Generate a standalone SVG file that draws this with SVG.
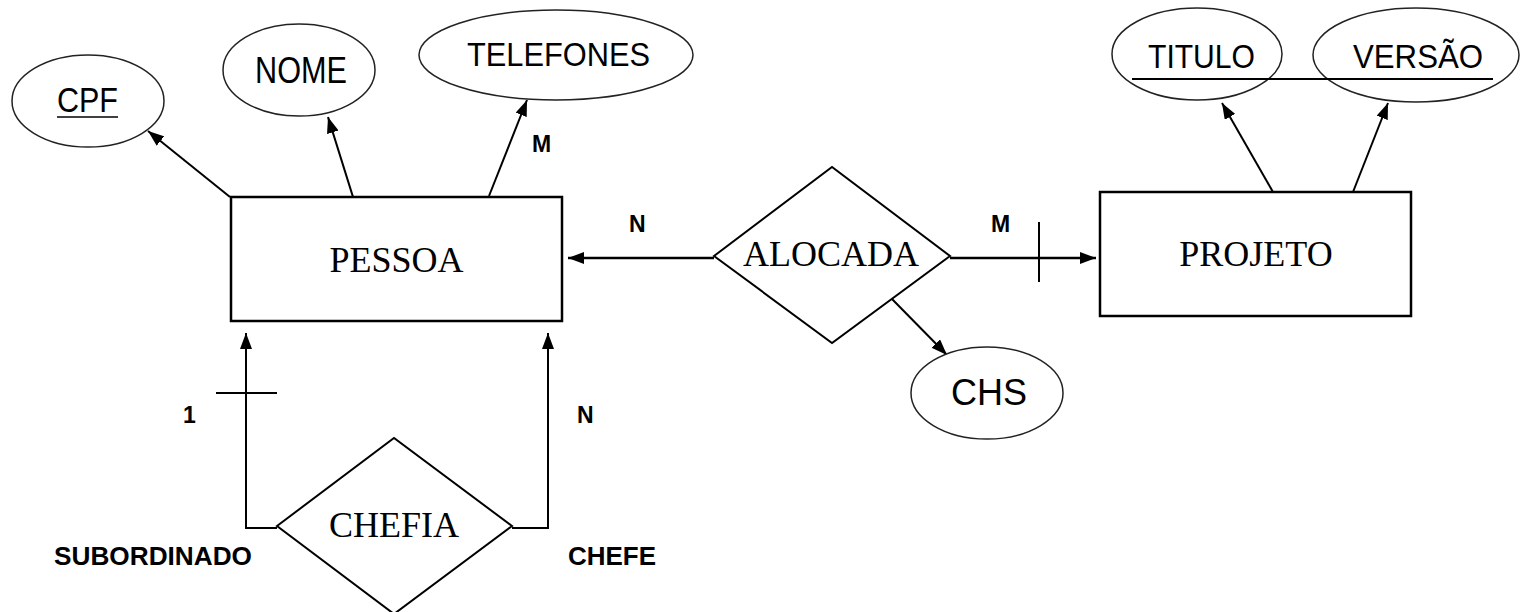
<svg xmlns="http://www.w3.org/2000/svg" width="1520" height="612" viewBox="0 0 1520 612">
<style>
.ent{fill:#fff;stroke:#000;stroke-width:2.5}
.rel{fill:#fff;stroke:#000;stroke-width:2}
.att{fill:#fff;stroke:#222;stroke-width:1.5}
.serif{font-family:"Liberation Serif","Times New Roman",serif;font-size:36px;fill:#000}
.sans{font-family:"Liberation Sans",Arial,sans-serif;fill:#000}
.lbl{font-family:"Liberation Sans",Arial,sans-serif;font-weight:bold;font-size:23px;fill:#000}
.ln{stroke:#000;stroke-width:2;fill:none}
.thk{stroke:#000;stroke-width:2.5;fill:none}
</style>
<defs>
<marker id="ah" markerUnits="userSpaceOnUse" markerWidth="16" markerHeight="12" refX="16" refY="6" orient="auto">
<path d="M0,0 L16,6 L0,12 z" fill="#000"/>
</marker>
</defs>
<rect width="1520" height="612" fill="#fff"/>
<g id="connectors">
<line class="ln" x1="230" y1="197" x2="148" y2="131" marker-end="url(#ah)"/>
<line class="ln" x1="353" y1="197" x2="328" y2="117" marker-end="url(#ah)"/>
<line class="ln" x1="489" y1="196" x2="527" y2="100" marker-end="url(#ah)"/>
<line class="ln" x1="1273" y1="192" x2="1222" y2="103" marker-end="url(#ah)"/>
<line class="ln" x1="1353" y1="192" x2="1388" y2="103" marker-end="url(#ah)"/>
<line class="thk" x1="714" y1="258" x2="568" y2="258" marker-end="url(#ah)"/>
<line class="thk" x1="950" y1="258" x2="1096" y2="258" marker-end="url(#ah)"/>
<line class="ln" x1="1039" y1="222" x2="1039" y2="282"/>
<line class="ln" x1="891" y1="298" x2="947" y2="355" marker-end="url(#ah)"/>
<polyline class="ln" points="277,528 246,528 246,333" marker-end="url(#ah)"/>
<line class="ln" x1="216" y1="393" x2="277" y2="393"/>
<polyline class="ln" points="512,528 548,528 548,333" marker-end="url(#ah)"/>
<text class="lbl" x="532" y="152">M</text>
<text class="lbl" x="629" y="232">N</text>
<text class="lbl" x="991" y="232">M</text>
<text class="lbl" x="183" y="423">1</text>
<text class="lbl" x="577" y="423">N</text>
<text class="lbl" x="54" y="565" textLength="198" lengthAdjust="spacingAndGlyphs" style="font-size:25px">SUBORDINADO</text>
<text class="lbl" x="568" y="565" textLength="88" lengthAdjust="spacingAndGlyphs" style="font-size:25px">CHEFE</text>
</g>
<g id="pessoa">
<rect class="ent" x="231" y="197" width="331" height="124"/>
<text class="serif" x="396.5" y="272" text-anchor="middle">PESSOA</text>
</g>
<g id="projeto">
<rect class="ent" x="1100" y="192" width="311" height="124"/>
<text class="serif" x="1256" y="266" text-anchor="middle">PROJETO</text>
</g>
<g id="alocada">
<polygon class="rel" points="714,256 832,167 950,256 832,343"/>
<text class="serif" x="831" y="266" text-anchor="middle">ALOCADA</text>
</g>
<g id="chefia">
<polygon class="rel" points="277,526 394,438 512,526 394,614"/>
<text class="serif" x="394" y="537" text-anchor="middle">CHEFIA</text>
</g>
<g id="cpf">
<ellipse class="att" cx="88" cy="101" rx="76" ry="46"/>
<text class="sans" x="57" y="112" textLength="61" lengthAdjust="spacingAndGlyphs" style="font-size:35px">CPF</text>
<line x1="57" y1="117" x2="118" y2="117" stroke="#000" stroke-width="1.5"/>
</g>
<g id="nome">
<ellipse class="att" cx="299" cy="70" rx="76" ry="46"/>
<text class="sans" x="255" y="83" textLength="92" lengthAdjust="spacingAndGlyphs" style="font-size:36px">NOME</text>
</g>
<g id="telefones">
<ellipse class="att" cx="556" cy="55" rx="137" ry="45"/>
<text class="sans" x="467" y="66" textLength="183" lengthAdjust="spacingAndGlyphs" style="font-size:34px">TELEFONES</text>
</g>
<g id="titulo">
<ellipse class="att" cx="1197" cy="54" rx="85" ry="46"/>
<text class="sans" x="1148" y="68" textLength="107" lengthAdjust="spacingAndGlyphs" style="font-size:33px">TITULO</text>
</g>
<g id="versao">
<ellipse class="att" cx="1416" cy="55" rx="103" ry="47"/>
<text class="sans" x="1353" y="68" textLength="130" lengthAdjust="spacingAndGlyphs" style="font-size:33px">VERSÃO</text>
</g>
<line id="chave-projeto" x1="1132" y1="79" x2="1493" y2="79" stroke="#000" stroke-width="2"/>
<g id="chs">
<ellipse class="att" cx="987" cy="393" rx="76" ry="46"/>
<text class="sans" x="951" y="405" textLength="76" lengthAdjust="spacingAndGlyphs" style="font-size:37px">CHS</text>
</g>
</svg>
